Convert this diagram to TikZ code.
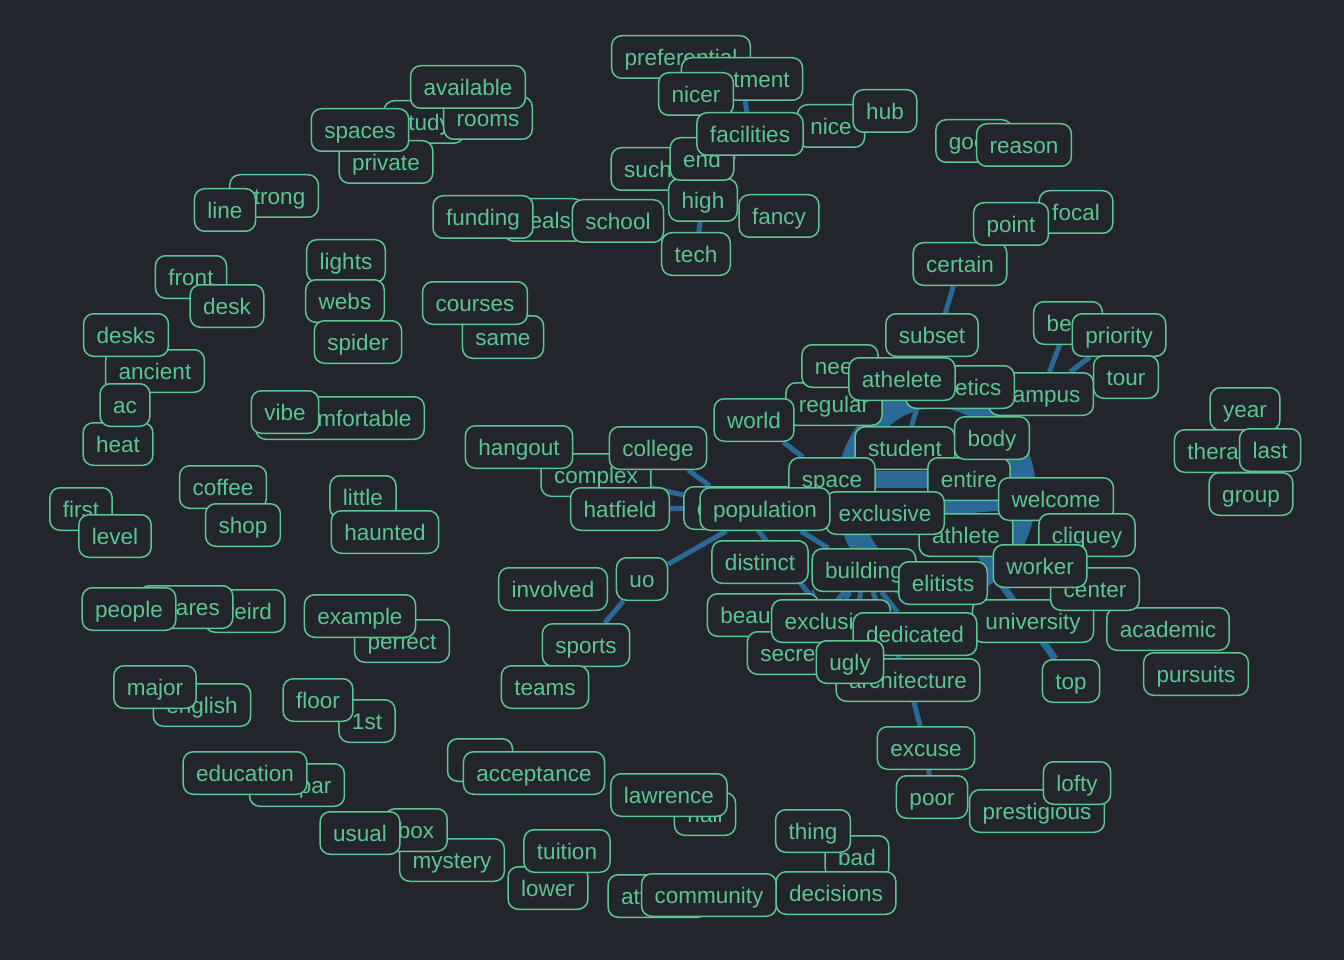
\documentclass[tikz,border=0pt]{standalone}
\usepackage{fontspec}
\setmainfont{Liberation Sans}

\definecolor{bgc}{HTML}{23252C}
\definecolor{wordc}{HTML}{5CC594}
\definecolor{linkc}{HTML}{2B6A97}

\pgfdeclarelayer{back}
\pgfdeclarelayer{links}
\pgfsetlayers{back,links,main}

\tikzset{
  word/.style={draw=wordc, fill=bgc, text=wordc, line width=1.5pt,
    rounded corners=10pt, inner xsep=13pt, inner ysep=13pt,
    text height=16.5pt, text depth=0pt, font=\fontsize{22.5}{27}\selectfont},
  link/.style={draw=linkc, line width=5pt},
  heavylink/.style={draw=linkc, line width=17pt},
}

\begin{document}
\begin{tikzpicture}[x=1pt,y=-1pt]
\begin{pgfonlayer}{back}
\fill[bgc] (0,0) rectangle (1344,960);
\end{pgfonlayer}
\useasboundingbox (0,0) rectangle (1344,960);

% top middle
\node[word] (preferential) at (681,57) {preferential};
\node[word] (treatment) at (742,79) {treatment};
\node[word] (nicer) at (696,94) {nicer};
\node[word] (nice) at (831,126) {nice};
\node[word] (hub) at (885,111) {hub};
\node[word] (such) at (648,169) {such};
\node[word] (high) at (703,200) {high};
\node[word] (end) at (702,159) {end};
\node[word] (facilities) at (750,134) {facilities};
\node[word] (fancy) at (779,216) {fancy};
\node[word] (tech) at (696,254) {tech};
\node[word] (deals) at (544,220) {deals};
\node[word] (school) at (618,221) {school};
\node[word] (funding) at (483,217) {funding};

% top left
\node[word] (study) at (424,122) {study};
\node[word] (rooms) at (488,118) {rooms};
\node[word] (available) at (468,87) {available};
\node[word] (private) at (386,162) {private};
\node[word] (spaces) at (360,130) {spaces};
\node[word] (strong) at (274,196) {strong};
\node[word] (line) at (225,210) {line};

% top right
\node[word] (good) at (974,141) {good};
\node[word] (reason) at (1024,145) {reason};
\node[word] (focal) at (1076,212) {focal};
\node[word] (certain) at (960,264) {certain};
\node[word] (point) at (1011,224) {point};

% left
\node[word] (front) at (191,277) {front};
\node[word] (desk) at (227,306) {desk};
\node[word] (ancient) at (155,371) {ancient};
\node[word] (desks) at (126,335) {desks};
\node[word] (heat) at (118,444) {heat};
\node[word] (ac) at (125,405) {ac};
\node[word] (first) at (81,509) {first};
\node[word] (level) at (115,536) {level};
\node[word] (coffee) at (223,487) {coffee};
\node[word] (shop) at (243,525) {shop};
\node[word] (lights) at (346,261) {lights};
\node[word] (webs) at (345,301) {webs};
\node[word] (spider) at (358,342) {spider};
\node[word] (same) at (503,337) {same};
\node[word] (courses) at (475,303) {courses};
\node[word] (uncomfortable) at (340,418) {uncomfortable};
\node[word] (vibe) at (285,412) {vibe};
\node[word] (little) at (363,497) {little};
\node[word] (haunted) at (385,532) {haunted};

% bottom left
\node[word] (weird) at (245,611) {weird};
\node[word] (shares) at (186,607) {shares};
\node[word] (people) at (129,609) {people};
\node[word] (perfect) at (402,641) {perfect};
\node[word] (example) at (360,616) {example};
\node[word] (english) at (202,705) {english};
\node[word] (major) at (155,687) {major};
\node[word] (1st) at (367,721) {1st};
\node[word] (floor) at (318,700) {floor};
\node[word] (subpar) at (297,785) {subpar};
\node[word] (education) at (245,773) {education};
\node[word] (mystery) at (452,860) {mystery};
\node[word] (box) at (416,830) {box};
\node[word] (usual) at (360,833) {usual};

% bottom middle
\node[word, minimum width=65pt] (so) at (480,760) {so};
\node[word] (acceptance) at (534,773) {acceptance};
\node[word] (hall) at (705,814) {hall};
\node[word] (lawrence) at (669,795) {lawrence};
\node[word] (lower) at (548,888) {lower};
\node[word] (tuition) at (567,851) {tuition};
\node[word] (attitude) at (658,896) {attitude};
\node[word] (community) at (709,895) {community};
\node[word] (bad) at (857,857) {bad};
\node[word] (thing) at (813,831) {thing};
\node[word] (decisions) at (836,893) {decisions};

% bottom right
\node[word] (excuse) at (926,748) {excuse};
\node[word] (poor) at (932,797) {poor};
\node[word] (prestigious) at (1037,811) {prestigious};
\node[word] (lofty) at (1077,783) {lofty};
\node[word] (top) at (1071,681) {top};
\node[word] (academic) at (1168,629) {academic};
\node[word] (pursuits) at (1196,674) {pursuits};
\node[word] (year) at (1245,409) {year};
\node[word] (therapy) at (1225,451) {therapy};
\node[word] (last) at (1270,450) {last};
\node[word] (group) at (1251,494) {group};

% left middle
\node[word] (complex) at (596,475) {complex};
\node[word] (hangout) at (519,447) {hangout};
\node[word] (college) at (658,448) {college};
\node[word] (hatfield) at (620,509) {hatfield};
\node[word] (involved) at (553,589) {involved};
\node[word] (uo) at (642,579) {uo};
\node[word] (sports) at (586,645) {sports};
\node[word] (teams) at (545,687) {teams};

% hub
\coordinate (core) at (936,493);
\node[word] (regular) at (834,404) {regular};
\node[word] (need) at (840,366) {need};
\node[word] (campus) at (1041,394) {campus};
\node[word] (athletics) at (960,387) {athletics};
\node[word] (athelete) at (902,379) {athelete};
\node[word] (subset) at (932,335) {subset};
\node[word] (best) at (1068,323) {best};
\node[word] (priority) at (1119,335) {priority};
\node[word] (tour) at (1126,377) {tour};
\node[word] (world) at (754,420) {world};
\node[word] (student) at (905,448) {student};
\node[word] (entire) at (969,479) {entire};
\node[word] (body) at (992,438) {body};
\node[word] (space) at (832,479) {space};
\node[word] (athlete) at (966,535) {athlete};
\node[word] (exclusive) at (885,513) {exclusive};
\node[word] (common) at (740,508) {common};
\node[word] (population) at (765,509) {population};
\node[word] (welcome) at (1056,499) {welcome};
\node[word] (cliquey) at (1087,535) {cliquey};
\node[word] (university) at (1033,621) {university};
\node[word] (center) at (1095,589) {center};
\node[word] (worker) at (1040,566) {worker};
\node[word] (distinct) at (760,562) {distinct};
\node[word] (building) at (864,570) {building};
\node[word] (elitists) at (943,583) {elitists};
\node[word] (beautiful) at (763,615) {beautiful};
\node[word] (secret) at (791,653) {secret};
\node[word] (exclusiveb) at (831,621) {exclusive};
\node[word] (dedicated) at (915,634) {dedicated};
\node[word] (architecture) at (908,680) {architecture};
\node[word] (ugly) at (850,662) {ugly};

\begin{pgfonlayer}{links}
\path[draw=linkc, line width=24pt] (core) ellipse [x radius=88pt, y radius=97pt];
\path[heavylink] (space) -- (entire);
\path[heavylink,line width=14pt] (exclusive) -- (welcome);
\path[link,line width=7pt] (core) -- (top);
\path[link] (treatment) -- (facilities);
\path[link] (facilities) -- (high);
\path[link] (high) -- (tech);
\path[link] (certain) -- (student);
\path[link] (best) -- (campus);
\path[link] (priority) -- (campus);
\path[link] (world) -- (space);
\path[link] (college) -- (common);
\path[link] (complex) -- (common);
\path[link] (hatfield) -- (common);
\path[link] (common) -- (exclusiveb);
\path[link] (uo) -- (population);
\path[link] (uo) -- (sports);
\path[link] (population) -- (building);
\path[link] (building) -- (beautiful);
\path[link] (building) -- (exclusiveb);
\path[link] (building) -- (secret);
\path[link] (building) -- (ugly);
\path[link] (building) -- (dedicated);
\path[link] (building) -- (architecture);
\path[link] (architecture) -- (excuse);
\path[link] (excuse) -- (poor);
\end{pgfonlayer}
\end{tikzpicture}
\end{document}
